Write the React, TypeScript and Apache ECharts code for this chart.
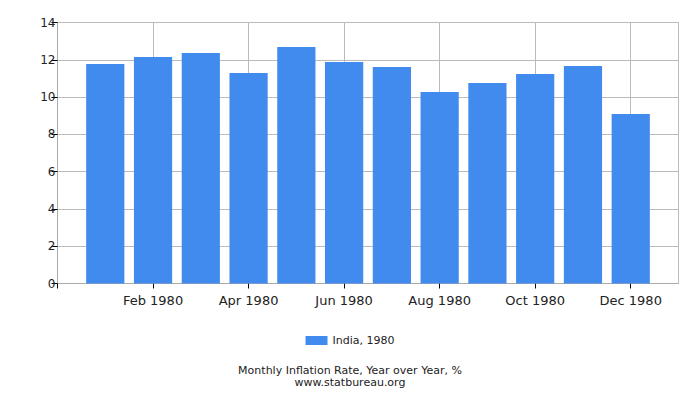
import React, { useEffect, useRef } from 'react';
import * as echarts from 'echarts';

// padded with an empty month on each side so that the axis runs Dec 1979 .. Jan 1981
const months = ['', 'Jan 1980', 'Feb 1980', 'Mar 1980', 'Apr 1980', 'May 1980', 'Jun 1980',
  'Jul 1980', 'Aug 1980', 'Sep 1980', 'Oct 1980', 'Nov 1980', 'Dec 1980', ''];
const inflation = [null, 11.78, 12.15, 12.37, 11.29, 12.69, 11.88, 11.61, 10.27, 10.76, 11.24, 11.67, 9.09, null];
const seriesName = 'India, 1980';
const yTicks = { min: 0, max: 14, interval: 2 };
const captions = ['Monthly Inflation Rate, Year over Year, %', 'www.statbureau.org'];

const FONT = '"DejaVu Sans", sans-serif';

const App: React.FC = () => {
  const chartRef = useRef<HTMLDivElement>(null);

  useEffect(() => {
    document.body.style.margin = '0';
    if (!chartRef.current) return;
    const chart = echarts.init(chartRef.current, null, { renderer: 'svg' });

    const evenMonth = (i: number) => i % 2 === 0;

    chart.setOption({
      animation: false,
      textStyle: { fontFamily: FONT },
      grid: {
        left: 57.5,
        top: 22.5,
        right: 21.5,
        bottom: 116.5,
        show: true,
        borderColor: '#bbbbbb',
        borderWidth: 1,
      },
      legend: {
        data: [{ name: seriesName, icon: 'rect' }],
        bottom: 49,
        left: 'center',
        itemWidth: 22,
        itemHeight: 9,
        textStyle: { fontSize: 11, color: '#222', fontFamily: FONT },
      },
      graphic: captions.map((text, i) => ({
        type: 'text',
        left: 'center',
        top: 364.5 + i * 12.5,
        style: {
          text,
          font: `11px ${FONT}`,
          fill: '#222',
        },
      })),
      xAxis: {
        type: 'category',
        data: months,
        boundaryGap: false,
        axisLine: { lineStyle: { color: '#aaaaaa' } },
        axisTick: { interval: (i: number) => evenMonth(i), length: 5, lineStyle: { color: '#000' } },
        axisLabel: {
          interval: (i: number) => evenMonth(i) && i > 0,
          fontSize: 13,
          color: '#222',
          margin: 10,
          fontFamily: FONT,
        },
        splitLine: {
          show: true,
          interval: (i: number) => evenMonth(i) && i > 0,
          lineStyle: { color: '#bbbbbb' },
        },
      },
      yAxis: {
        type: 'value',
        min: yTicks.min,
        max: yTicks.max,
        interval: yTicks.interval,
        axisLine: { show: true, lineStyle: { color: '#aaaaaa' } },
        axisTick: { show: true, length: 6, lineStyle: { color: '#000' } },
        axisLabel: { fontSize: 12, color: '#222', margin: 2, fontFamily: FONT },
        splitLine: { lineStyle: { color: '#bbbbbb' } },
      },
      series: [
        {
          name: seriesName,
          type: 'bar',
          data: inflation,
          barWidth: '80%',
          itemStyle: { color: '#428bee' },
        },
      ],
    });

    return () => {
      chart.dispose();
    };
  }, []);

  return <div ref={chartRef} style={{ width: '700px', height: '400px' }} />;
};

export default App;
